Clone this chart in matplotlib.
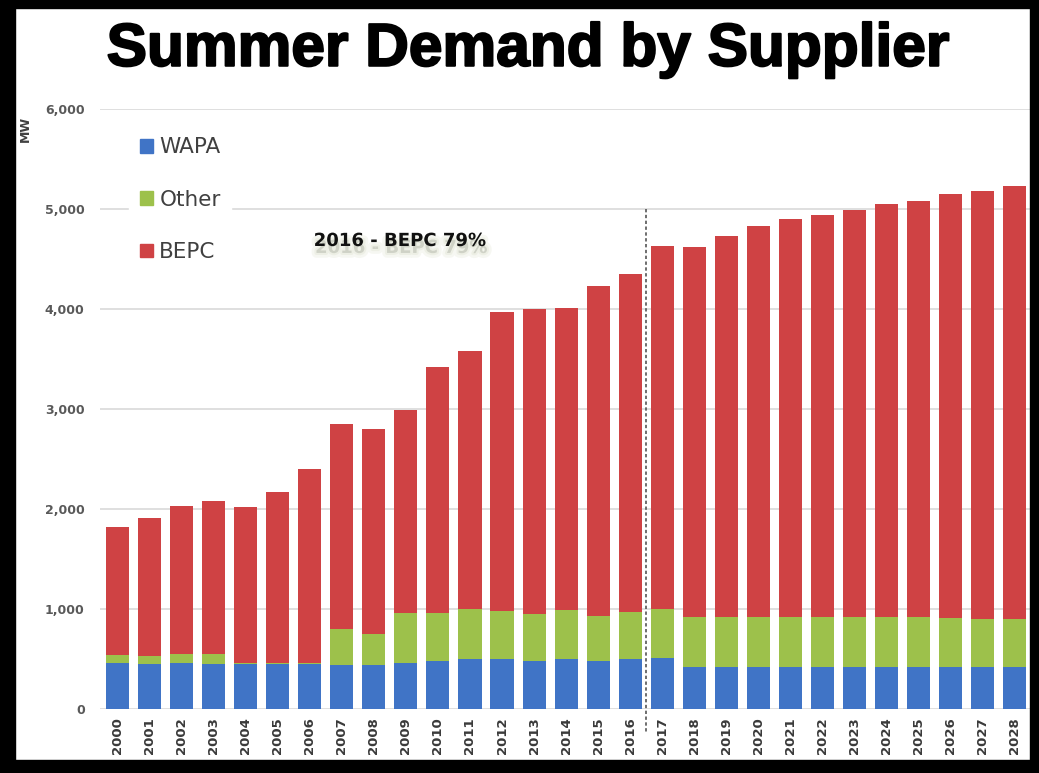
import numpy as np
import matplotlib
matplotlib.use("Agg")
import matplotlib.pyplot as plt
import matplotlib.patheffects as pe
from matplotlib.patches import Rectangle, Patch

years = [str(y) for y in range(2000, 2029)]

# totals (MW)
total = [1815, 1909, 2033, 2077, 2017, 2168, 2403, 2849, 2799, 2993,
         3422, 3580, 3966, 4000, 4010, 4228, 4352, 4625, 4620, 4731,
         4832, 4899, 4940, 4993, 5047, 5084, 5145, 5181, 5225]
wapa = [462, 450, 463, 450, 450, 450, 450, 435, 435, 462,
        480, 497, 497, 483, 503, 483, 503, 507, 418, 418,
        418, 418, 418, 418, 418, 418, 418, 418, 418]
other = [78, 75, 91, 97, 12, 12, 12, 361, 310, 494,
         476, 503, 483, 467, 487, 445, 471, 493, 504, 504,
         504, 504, 504, 504, 504, 504, 490, 482, 482]

wapa = np.array(wapa)
other = np.array(other)
bepc = np.array(total) - wapa - other

c_wapa = "#4074C6"
c_other = "#9DC14B"
c_bepc = "#CF4244"

fig = plt.figure(figsize=(10.39, 7.73), dpi=100)
ax = fig.add_axes([0.0962, 0.0828, 0.8948, 0.7762])

x = np.arange(len(years))
w = 0.72
ax.bar(x, wapa, w, color=c_wapa, zorder=2)
ax.bar(x, other, w, bottom=wapa, color=c_other, zorder=2)
ax.bar(x, bepc, w, bottom=wapa + other, color=c_bepc, zorder=2)

ax.set_xlim(-0.55, 28.47)
ax.set_ylim(0, 6000)
ax.set_yticks(range(0, 6001, 1000))
ax.set_yticklabels([f"{v:,}" for v in range(0, 6001, 1000)])
ax.set_xticks(x)
ax.set_xticklabels(years, rotation=90)
ax.yaxis.grid(True, color="#d9d9d9", lw=1.2, zorder=0)
ax.set_axisbelow(True)
for s in ax.spines.values():
    s.set_visible(False)
ax.tick_params(axis="y", length=0, pad=11, labelsize=9, labelcolor="#595959")
ax.tick_params(axis="x", length=0, pad=6, labelsize=9.5, labelcolor="#3a3a3a")
for lab in ax.get_xticklabels() + ax.get_yticklabels():
    lab.set_fontweight("bold")

# dashed divider between actual and forecast
ax.plot([16.5, 16.5], [5000, -250], color="#555555", lw=1.2, ls=(0, (2, 1.5)),
        clip_on=False, zorder=3)

# soft shadow under the note
ax.text(8.8, 4680, "2016 - BEPC 79%", ha="center", va="center", fontsize=13,
        fontweight="bold", color="#111111", zorder=4,
        path_effects=[pe.Stroke(offset=(1, -5), linewidth=7, foreground="#8a9a50", alpha=0.07),
                      pe.Stroke(offset=(1, -5), linewidth=3, foreground="#8a9a50", alpha=0.08),
                      pe.Normal()])

handles = [Patch(color=c_wapa), Patch(color=c_other), Patch(color=c_bepc)]
leg = fig.legend(handles, ["WAPA", "Other", "BEPC"], loc="upper left",
                 bbox_to_anchor=(0.114, 0.85), fontsize=15.5, frameon=True,
                 facecolor="white", edgecolor="white", framealpha=1, fancybox=False,
                 handlelength=0.6, handleheight=0.6, handletextpad=0.3,
                 labelspacing=1.5, borderpad=0.5)
for t in leg.get_texts():
    t.set_color("#404040")

fig.text(0.024, 0.833, "MW", rotation=90, ha="center", va="center", fontsize=9,
         fontweight="bold", color="#404040")

fig.text(0.508, 0.935, "Summer Demand by Supplier", ha="center", va="center",
         fontsize=43.5, fontweight="bold", family=["Liberation Sans", "DejaVu Sans"],
         color="black", path_effects=[pe.withStroke(linewidth=1.5, foreground="black")])

# black picture frame
for r in [(0, 0, 0.014, 1), (0, 0, 1, 0.017), (0, 0.99, 1, 0.01), (0.991, 0, 0.009, 1)]:
    fig.patches.append(Rectangle((r[0], r[1]), r[2], r[3], transform=fig.transFigure,
                                 color="black", zorder=10))

fig.savefig("out.png", dpi=100)
